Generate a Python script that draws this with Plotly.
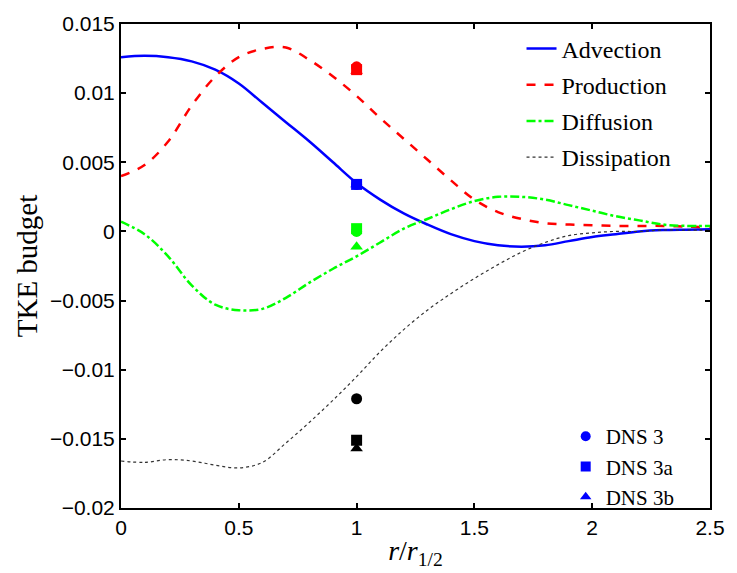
import plotly.graph_objects as go

# ---- data ----
r = [0.0, 0.1, 0.2, 0.3, 0.4, 0.5, 0.6, 0.7, 0.8, 0.9, 1.0, 1.1, 1.2,
     1.3, 1.4, 1.5, 1.6, 1.7, 1.8, 1.9, 2.0, 2.1, 2.2, 2.3, 2.4, 2.5]

advection = [0.0126, 0.0127, 0.0126, 0.0123, 0.0117, 0.0107, 0.0093, 0.0079,
             0.0065, 0.0050, 0.0035, 0.0023, 0.0013, 0.0005, -0.0002, -0.0007,
             -0.0010, -0.0011, -0.0010, -0.0007, -0.0004, -0.0002, 0.0000,
             0.0001, 0.00013, 0.00015]

production = [0.0040, 0.0048, 0.0065, 0.0091, 0.0112, 0.0126, 0.0132, 0.0133,
              0.0124, 0.0112, 0.0098, 0.0082, 0.0067, 0.0052, 0.0037, 0.0023,
              0.0014, 0.0009, 0.0006, 0.0005, 0.00045, 0.0004, 0.0004, 0.0004,
              0.00035, 0.0003]

diffusion = [0.0007, -0.0002, -0.0018, -0.0039, -0.0053, -0.0057, -0.0056,
             -0.0048, -0.0037, -0.0027, -0.0018, -0.0008, 0.0002, 0.0009,
             0.0016, 0.0022, 0.0025, 0.0025, 0.0023, 0.0019, 0.0015, 0.0011,
             0.0008, 0.0005, 0.0004, 0.0004]

dissipation = [-0.0166, -0.0167, -0.0165, -0.0166, -0.0169, -0.0171, -0.0167,
               -0.0153, -0.0138, -0.0122, -0.0105, -0.0087, -0.0071, -0.0057,
               -0.0045, -0.0034, -0.0024, -0.0015, -0.0008, -0.0003, -0.0001,
               0.0000, 0.0000, 0.0001, 0.0001, 0.0001]

dns_x = 1.0
terms = ["Advection", "Production", "Diffusion", "Dissipation"]
dns3 = [0.0034, 0.0119, 0.0000, -0.0121]    # circles
dns3a = [0.0034, 0.0117, 0.0002, -0.0151]   # squares
dns3b = [0.0034, 0.0116, -0.0011, -0.0157]  # triangles

dns_names = ["DNS 3", "DNS 3a", "DNS 3b"]

xtick_vals = [0, 0.5, 1, 1.5, 2, 2.5]
xtick_text = ["0", "0.5", "1", "1.5", "2", "2.5"]
ytick_vals = [0.015, 0.01, 0.005, 0, -0.005, -0.01, -0.015, -0.02]
ytick_text = ["0.015", "0.01", "0.005", "0", "\u22120.005", "\u22120.01",
              "\u22120.015", "\u22120.02"]

# ---- styles ----
colors = ["#0000ff", "#ff0000", "#00ff00", "#333333"]
dashes = ["solid", "dash", "dashdot", "dot"]
widths = [2.5, 2.5, 2.5, 1.2]

fig = go.Figure()
series = [advection, production, diffusion, dissipation]
for name, ys, c, d, w in zip(terms, series, colors, dashes, widths):
    fig.add_trace(go.Scatter(x=r, y=ys, mode="lines", name=name,
                             line=dict(color=c, dash=d, width=w, shape="spline", smoothing=1.0),
                             legend="legend", legendgroup=name))

# DNS markers (drawn triangles, squares, circles)
for vals, sym in [(dns3b, "triangle-up"), (dns3a, "square"), (dns3, "circle")]:
    fig.add_trace(go.Scatter(x=[dns_x] * 4, y=vals, mode="markers",
                             marker=dict(color=colors[:3] + ["#000000"], symbol=sym, size=11,
                                         line=dict(width=0)),
                             showlegend=False))

# marker legend entries
for name, sym in zip(dns_names, ["circle", "square", "triangle-up"]):
    fig.add_trace(go.Scatter(x=[None], y=[None], mode="markers", name=name,
                             marker=dict(color="#0000ff", symbol=sym, size=10),
                             legend="legend2"))

axis_common = dict(showline=True, linewidth=2, linecolor="black", mirror="ticks",
                   ticks="inside", ticklen=5, tickwidth=1.5, tickcolor="black",
                   showgrid=False, zeroline=False,
                   tickfont=dict(family="Liberation Sans, Arial", size=21, color="black"))

fig.update_layout(
    width=737, height=573,
    margin=dict(l=121, r=16, t=21, b=62),
    plot_bgcolor="white", paper_bgcolor="white",
    xaxis=dict(range=[0, 2.5], tickvals=xtick_vals, ticktext=xtick_text,
               title=dict(text="<i>r</i>/<i>r</i><sub>1/2</sub>",
                          font=dict(family="Liberation Serif", size=28, color="black"),
                          standoff=2),
               **axis_common),
    yaxis=dict(range=[-0.02, 0.015], tickvals=ytick_vals, ticktext=ytick_text,
               title=dict(text="TKE budget",
                          font=dict(family="Liberation Serif", size=29, color="black"),
                          standoff=4),
               **axis_common),
    legend=dict(x=0.68, y=0.995, xanchor="left", yanchor="top",
                bgcolor="rgba(0,0,0,0)", tracegroupgap=2,
                font=dict(family="Liberation Serif", size=24, color="black")),
    legend2=dict(x=0.755, y=0.19, xanchor="left", yanchor="top",
                 bgcolor="rgba(0,0,0,0)",
                 font=dict(family="Liberation Serif", size=21, color="black")),
)

fig.write_html("out.html")
